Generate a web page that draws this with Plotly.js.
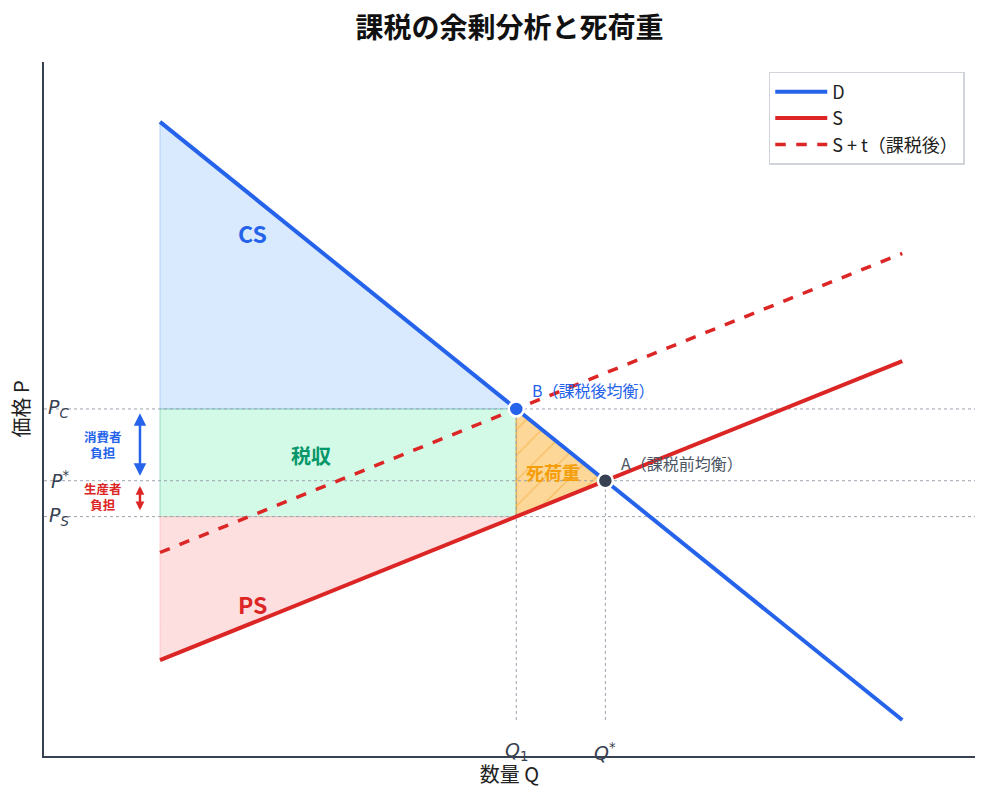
<!DOCTYPE html>
<html><head><meta charset="utf-8">
<script src="https://cdn.plot.ly/plotly-3.0.1.min.js"></script>
<style>body{margin:0;padding:0;background:#fff}#chart{width:989px;height:802px}</style>
</head><body><div id="chart"></div>
<script>
// Model values
const qLine = [0, 10];           // quantity range of the curves
const demandP = [10, 0];         // D: P = 10 - Q
const supplyP = [1, 6];          // S: P = 1 + 0.5Q
const supplyTaxP = [2.8, 7.8];   // S + t (t = 1.8)
const qStar = 6, pStar = 4;      // pre-tax equilibrium A
const q1 = 4.8, pC = 5.2, pS = 3.4; // post-tax equilibrium B
const legendNames = ['D', 'S', 'S + t（課税後）'];

const BLUE = '#2563eb', RED = '#dc2626', ORANGE = '#f59e0b', GREEN = '#059669', GRAY = '#374151';
const FONT = '"Noto Sans CJK JP", "Noto Sans", sans-serif';

const traces = [];
// CS
traces.push({x:[qLine[0], q1, qLine[0], qLine[0]], y:[demandP[0], pC, pC, demandP[0]], fill:'toself', mode:'lines',
  line:{width:1, color:'rgba(147,187,247,0.6)'}, fillcolor:'rgba(191,219,254,0.6)', hoverinfo:'skip', showlegend:false});
// Tax revenue
traces.push({x:[qLine[0], q1, q1, qLine[0], qLine[0]], y:[pS, pS, pC, pC, pS], fill:'toself', mode:'lines',
  line:{width:1, color:'rgba(110,200,170,0.6)'}, fillcolor:'rgba(167,243,208,0.5)', hoverinfo:'skip', showlegend:false});
// PS
traces.push({x:[qLine[0], q1, qLine[0], qLine[0]], y:[supplyP[0], pS, pS, supplyP[0]], fill:'toself', mode:'lines',
  line:{width:1, color:'rgba(248,180,180,0.6)'}, fillcolor:'rgba(254,202,202,0.6)', hoverinfo:'skip', showlegend:false});
// Deadweight loss
traces.push({x:[q1, qStar, q1, q1], y:[pC, pStar, pS, pC], fill:'toself', mode:'lines',
  line:{width:1.5, color:'rgba(240,160,40,0.7)'}, fillcolor:'rgba(252,211,140,0.9)',
  fillpattern:{shape:'/', fgcolor:'rgba(245,170,60,0.6)', bgcolor:'rgba(252,213,145,0.95)', size:18, solidity:0.07},
  hoverinfo:'skip', showlegend:false});
// reference dotted lines
const xr = [-1.563, 10.98], yr = [-0.602, 11.0];
[pC, pStar, pS].forEach(p => traces.push({x:xr, y:[p,p], mode:'lines', line:{color:'#9ca3af', width:1, dash:'dot'}, hoverinfo:'skip', showlegend:false}));
[[q1,pC],[qStar,pStar]].forEach(([q,p]) => traces.push({x:[q,q], y:[0,p], mode:'lines', line:{color:'#9ca3af', width:1, dash:'dot'}, hoverinfo:'skip', showlegend:false}));
// curves
traces.push({x:qLine, y:demandP, mode:'lines', name:legendNames[0], line:{color:BLUE, width:4}});
traces.push({x:qLine, y:supplyP, mode:'lines', name:legendNames[1], line:{color:RED, width:4}});
traces.push({x:qLine, y:supplyTaxP, mode:'lines', name:legendNames[2], line:{color:RED, width:3.5, dash:'dash'}});
// points
traces.push({x:[q1], y:[pC], mode:'markers', marker:{size:15, color:BLUE, line:{color:'#fff', width:2.5}}, showlegend:false, hoverinfo:'skip'});
traces.push({x:[qStar], y:[pStar], mode:'markers', marker:{size:15, color:GRAY, line:{color:'#fff', width:2.5}}, showlegend:false, hoverinfo:'skip'});

const ann = (x,y,text,opts) => Object.assign({x, y, xref:'x', yref:'y', text, showarrow:false}, opts);
const annotations = [
  ann(1.25, 8.14, '<b>CS</b>', {font:{size:23, color:BLUE, family:FONT}}),
  ann(2.04, 4.43, '<b>税収</b>', {font:{size:20, color:GREEN, family:FONT}}),
  ann(1.25, 1.94, '<b>PS</b>', {font:{size:23, color:RED, family:FONT}}),
  ann(5.30, 4.15, '<b>死荷重</b>', {font:{size:18, color:ORANGE, family:FONT}}),
  ann(4.98, 5.52, 'B（課税後均衡）', {xanchor:'left', font:{size:16, color:BLUE, family:FONT}}),
  ann(6.19, 4.30, 'A（課税前均衡）', {xanchor:'left', font:{size:16, color:'#4b5563', family:FONT}}),
  ann(-0.77, 4.60, '<b>消費者<br>負担</b>', {font:{size:12.5, color:BLUE, family:FONT}}),
  ann(-0.77, 3.73, '<b>生産者<br>負担</b>', {font:{size:12.5, color:RED, family:FONT}}),
  ann(-1.2, pC, '<i>P</i><sub><i>C</i></sub>', {xanchor:'right', font:{size:19, color:GRAY, family:'DejaVu Sans'}}),
  ann(-1.2, pStar+0.02, '<i>P</i><sup>*</sup>', {xanchor:'right', font:{size:19, color:GRAY, family:'DejaVu Sans'}}),
  ann(-1.2, pS, '<i>P</i><sub><i>S</i></sub>', {xanchor:'right', font:{size:19, color:GRAY, family:'DejaVu Sans'}}),
  ann(q1, -0.53, '<i>Q</i><sub>1</sub>', {font:{size:19, color:GRAY, family:'DejaVu Sans'}}),
  ann(qStar, -0.53, '<i>Q</i><sup>*</sup>', {font:{size:19, color:GRAY, family:'DejaVu Sans'}}),
  // burden arrows
  {x:-0.27, y:5.13, ax:-0.27, ay:4.06, xref:'x', yref:'y', axref:'x', ayref:'y', text:'', showarrow:true,
   arrowhead:2, startarrowhead:2, arrowside:'end+start', arrowwidth:2.5, arrowsize:1, startarrowsize:1, arrowcolor:BLUE},
  {x:-0.27, y:3.91, ax:-0.27, ay:3.48, xref:'x', yref:'y', axref:'x', ayref:'y', text:'', showarrow:true,
   arrowhead:2, startarrowhead:2, arrowside:'end+start', arrowwidth:2.5, arrowsize:0.7, startarrowsize:0.7, arrowcolor:RED}
];

const layout = {
  width:989, height:802,
  margin:{l:44, r:14, t:62, b:46},
  paper_bgcolor:'#fff', plot_bgcolor:'#fff',
  font:{family:FONT, color:'#222'},
  title:{text:'<b>課税の余剰分析と死荷重</b>', x:0.5, xref:'paper', y:1-28/802, yanchor:'middle', yref:'container', font:{size:28, family:FONT, color:'#111'}},
  xaxis:{range:xr, showgrid:false, zeroline:false, showticklabels:false, ticks:'', showline:true, linecolor:'#374151', linewidth:2,
    title:{text:'数量 Q', font:{size:20, family:FONT, color:'#222'}, standoff:11}},
  yaxis:{range:yr, showgrid:false, zeroline:false, showticklabels:false, ticks:'', showline:true, linecolor:'#374151', linewidth:2,
    title:{text:'価格 P', font:{size:20, family:FONT, color:'#222'}, standoff:7}},
  legend:{x:0.989, y:0.9856, xanchor:'right', yanchor:'top', bgcolor:'#fff', bordercolor:'#d1d5db', borderwidth:1.5,
    font:{size:18, family:FONT, color:'#222'}, tracegroupgap:0, itemwidth:52},
  annotations,
  showlegend:true
};
Plotly.newPlot('chart', traces, layout, {staticPlot:true, displayModeBar:false});
</script></body></html>
